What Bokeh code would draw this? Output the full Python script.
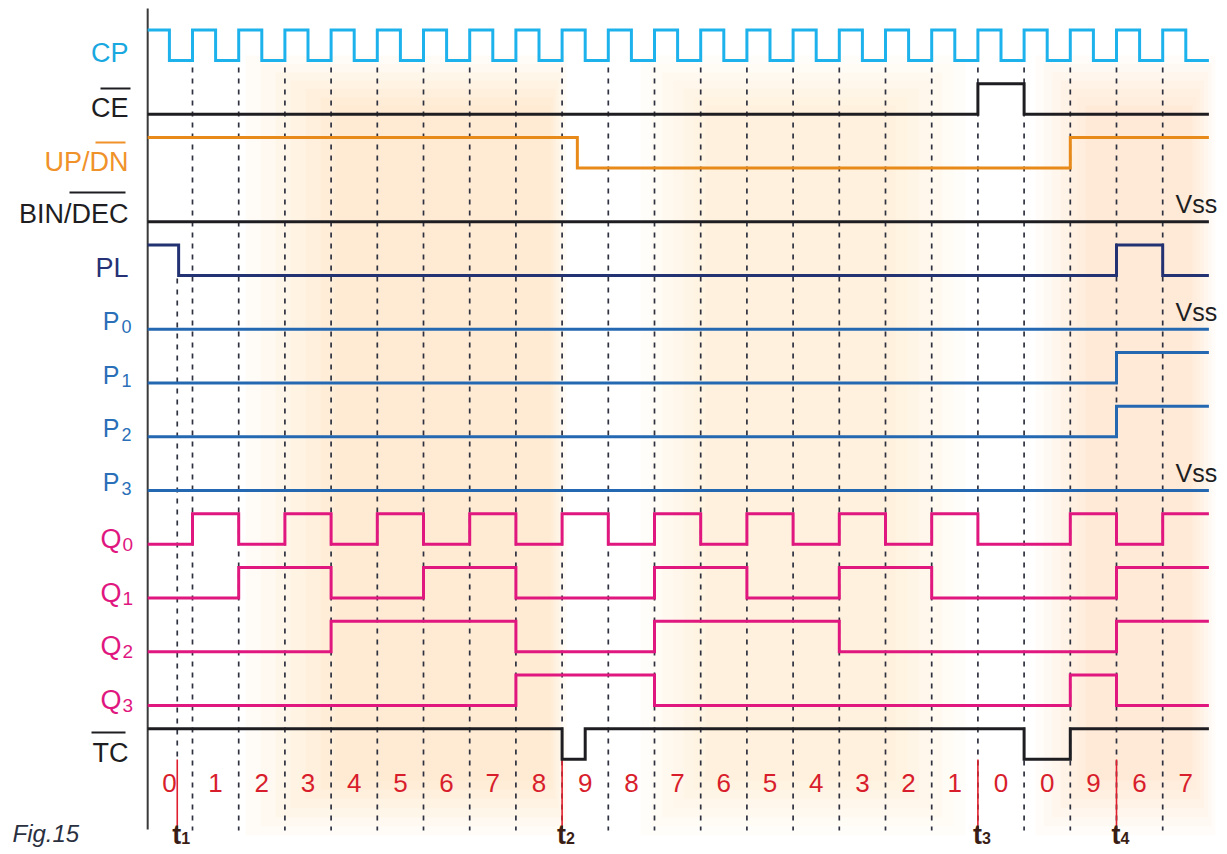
from bokeh.plotting import figure
from bokeh.models import Range1d
from bokeh.core.properties import value
from bokeh.embed import file_html
from bokeh.resources import INLINE

# ---------------- data (time in clock periods, levels 0/1) ----------------
T_START = -0.97
T_END = 22.0
CLOCK_EDGES = [0, 1, 2, 3, 4, 5, 6, 7, 8, 9, 10, 11, 12, 13, 14, 15, 16, 17, 18, 19, 20, 21]

# CP level for each half period starting at t = -1
CP_LEVELS = [1, 0, 1, 0, 1, 0, 1, 0, 1, 0, 1, 0, 1, 0, 1, 0, 1, 0, 1, 0, 1, 0, 1, 0,
             1, 0, 1, 0, 1, 0, 1, 0, 1, 0, 1, 0, 1, 0, 1, 0, 1, 0, 1, 0, 1, 0]
CE_CHANGES = [(T_START, 0), (17, 1), (18, 0)]
UPDN_CHANGES = [(T_START, 1), (8.33, 0), (19, 1)]
BINDEC_CHANGES = [(T_START, 0)]
PL_CHANGES = [(T_START, 1), (-0.3, 0), (20, 1), (21, 0)]
P0_CHANGES = [(T_START, 0)]
P1_CHANGES = [(T_START, 0), (20, 1)]
P2_CHANGES = [(T_START, 0), (20, 1)]
P3_CHANGES = [(T_START, 0)]
# counter state for each clock period starting at t = -1
COUNT = [0, 1, 2, 3, 4, 5, 6, 7, 8, 9, 8, 7, 6, 5, 4, 3, 2, 1, 0, 0, 9, 6, 7]
Q0_LEVELS = [0, 1, 0, 1, 0, 1, 0, 1, 0, 1, 0, 1, 0, 1, 0, 1, 0, 1, 0, 0, 1, 0, 1]
Q1_LEVELS = [0, 0, 1, 1, 0, 0, 1, 1, 0, 0, 0, 1, 1, 0, 0, 1, 1, 0, 0, 0, 0, 1, 1]
Q2_LEVELS = [0, 0, 0, 0, 1, 1, 1, 1, 0, 0, 0, 1, 1, 1, 1, 0, 0, 0, 0, 0, 0, 1, 1]
Q3_LEVELS = [0, 0, 0, 0, 0, 0, 0, 0, 1, 1, 1, 0, 0, 0, 0, 0, 0, 0, 0, 0, 1, 0, 0]
TC_CHANGES = [(T_START, 1), (8, 0), (8.5, 1), (18, 0), (19, 1)]
MARK_TIMES = [-0.33, 8, 17, 20]
MARK_NAMES = ["1", "2", "3", "4"]
VSS_ROWS = ["BINDEC", "P0", "P3"]

ROWS = ["CP", "CE", "UPDN", "BINDEC", "PL", "P0", "P1", "P2", "P3", "Q0", "Q1", "Q2", "Q3", "TC"]

# ---------------- layout ----------------
W, H = 1224, 851
OFF = 0
X_T0 = 192.0      # screen x of t = 0
PERIOD = 46.2     # px per clock period
ROW0 = 60.0       # screen y of first row low level
ROWSTEP = 53.75
AMP = 30.5 / ROWSTEP
TEXT_DY = -8.5    # correction of rendered text baseline

def px(sx):
    return (sx - X_T0) / PERIOD

def py(sy):
    return (sy - ROW0) / ROWSTEP

def ty(sy):
    return py(sy + TEXT_DY)

FONT = value("Liberation Sans")

p = figure(width=W, height=H, output_backend="svg", toolbar_location=None,
           x_range=Range1d(px(OFF), px(OFF + W)), y_range=Range1d(py(OFF + H), py(OFF)),
           x_axis_location=None, y_axis_location=None, min_border=0,
           background_fill_color="white", border_fill_color="white", outline_line_color=None)
p.xgrid.visible = False
p.ygrid.visible = False

# soft background glow bands
BANDS = [((245, 335, 550, 566), 0.05), ((640, 705, 895, 965), 0.035), ((1035, 1085, 1192, 1215), 0.042)]
NL = 7
for (ol, il, ir, orr), a in BANDS:
    for k in range(NL):
        f = k / (NL - 1)
        p.quad(left=px(ol + (il - ol) * f), right=px(orr - (orr - ir) * f),
               top=py(55 + 50 * f), bottom=py(835 - 55 * f),
               fill_color="#f7bf72", fill_alpha=a, line_color=None)

# dashed clock lines
p.segment(x0=CLOCK_EDGES, x1=CLOCK_EDGES, y0=[py(67)] * len(CLOCK_EDGES), y1=[py(830)] * len(CLOCK_EDGES),
          line_color="#2e3140", line_width=1.7, line_dash="5 6")
# t1 dashed line
p.segment(x0=[MARK_TIMES[0]], x1=[MARK_TIMES[0]], y0=[py(278)], y1=[py(757)],
          line_color="#2e3140", line_width=1.7, line_dash="5 6")
# red marker lines
p.segment(x0=MARK_TIMES, x1=MARK_TIMES, y0=[py(759)] * 4, y1=[py(829)] * 4,
          line_color="#e0202e", line_width=1.6)

# axis line
p.segment(x0=[T_START], x1=[T_START], y0=[py(8)], y1=[py(829)], line_color="#3a3a3a", line_width=2)


def periodic(levels, step):
    out = []
    for k, lv in enumerate(levels):
        t = -1 + k * step
        out.append((max(t, T_START), lv))
    return out


def step_xy(changes, row):
    xs, ys = [], []
    prev = None
    for t, lv in changes:
        y = row - lv * AMP
        if prev is not None:
            xs.append(t)
            ys.append(prev)
        xs.append(t)
        ys.append(y)
        prev = y
    xs.append(T_END)
    ys.append(prev)
    return xs, ys


SIGNALS = {
    "CP": (periodic(CP_LEVELS, 0.5), "#1db2ec"),
    "CE": (CE_CHANGES, "#1e1e22"),
    "UPDN": (UPDN_CHANGES, "#e88a1a"),
    "BINDEC": (BINDEC_CHANGES, "#1e1e22"),
    "PL": (PL_CHANGES, "#233272"),
    "P0": (P0_CHANGES, "#2468b2"),
    "P1": (P1_CHANGES, "#2468b2"),
    "P2": (P2_CHANGES, "#2468b2"),
    "P3": (P3_CHANGES, "#2468b2"),
    "Q0": (periodic(Q0_LEVELS, 1), "#e0177f"),
    "Q1": (periodic(Q1_LEVELS, 1), "#e0177f"),
    "Q2": (periodic(Q2_LEVELS, 1), "#e0177f"),
    "Q3": (periodic(Q3_LEVELS, 1), "#e0177f"),
    "TC": (TC_CHANGES, "#1e1e22"),
}
for name, (changes, col) in SIGNALS.items():
    xs, ys = step_xy(changes, ROWS.index(name))
    p.line(xs, ys, line_color=col, line_width=3, line_join="miter", line_cap="butt")

# ---------------- labels ----------------
def txt(x, sy, s, color, size, align="right", style="normal", xo=0):
    p.text(x=[x], y=[ty(sy)], text=[s], text_color=color, text_font=FONT, text_font_size=f"{size}px",
           text_align=align, text_baseline="alphabetic", text_font_style=style, x_offset=xo)

LBL_X = px(128)
txt(LBL_X, 61, "CP", "#1aa8e0", 27)
txt(LBL_X, 116, "CE", "#1e1e22", 27)
txt(LBL_X, 169.5, "UP/DN", "#f0922a", 27)
txt(LBL_X, 222, "BIN/DEC", "#1e1e22", 27)
txt(LBL_X, 276, "PL", "#273276", 27)
txt(LBL_X, 761, "TC", "#1e1e22", 27)

# overlines
OVER = [(100, 130, 88, "#1e1e22"), (95, 125, 142, "#f0922a"), (69, 125, 192, "#1e1e22"), (91, 125, 732, "#1e1e22")]
for x0, x1, yy, col in OVER:
    p.segment(x0=[px(x0)], x1=[px(x1)], y0=[py(yy)], y1=[py(yy)], line_color=col, line_width=2)

for i, d in enumerate(["0", "1", "2", "3"]):
    base = ROW0 + ROWSTEP * ROWS.index("P" + d)
    txt(px(119), base, "P", "#2a6fb8", 25)
    txt(px(121), base + 6, d, "#2a6fb8", 18, align="left")
    qbase = ROW0 + ROWSTEP * ROWS.index("Q" + d)
    txt(px(121), qbase + 3, "Q", "#e0177f", 27)
    txt(px(122), qbase + 8.5, d, "#e0177f", 19, align="left")

for r in VSS_ROWS:
    base = ROW0 + ROWSTEP * ROWS.index(r)
    txt(px(1175), base - 9, "Vss", "#1e1e22", 25, align="left")

# count values
cx = [k - 0.5 for k in range(len(COUNT))]
p.text(x=cx, y=[ty(791)] * len(COUNT), text=[str(c) for c in COUNT], text_color="#d81e2c",
       text_font=FONT, text_font_size="26px", text_align="center", text_baseline="alphabetic")

# marker labels
for t, n in zip(MARK_TIMES, MARK_NAMES):
    txt(t, 843, "t", "#3a1e16", 27, align="left", style="bold", xo=-5)
    txt(t, 846, n, "#3a1e16", 16, align="left", style="bold", xo=4)

txt(px(12), 841, "Fig.15", "#2a3040", 24, align="left", style="italic")

open("out.html", "w").write(file_html(p, INLINE))
